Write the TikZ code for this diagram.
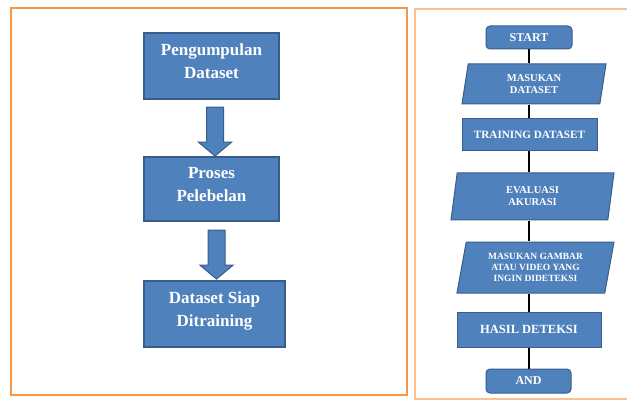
\documentclass[tikz,border=0pt]{standalone}
\usepackage{fontspec}
\setmainfont{Liberation Serif}
\usetikzlibrary{shapes.geometric,shapes.arrows,calc}

\definecolor{boxblue}{HTML}{4F81BD}
\definecolor{boxedge}{HTML}{385D8A}
\definecolor{frameorange}{HTML}{F79646}
\definecolor{framelight}{HTML}{FAC090}

\tikzset{   bigbox/.style={draw=boxedge,fill=boxblue,line width=1.5pt,text=white,align=center,inner sep=0pt,
                font=\fontsize{17}{23}\selectfont\bfseries,minimum width=135pt,minimum height=66pt},
            downarrow/.style={single arrow,draw=boxedge,fill=boxblue,line width=1pt,inner sep=8pt,
                single arrow head extend=8pt,single arrow tip angle=100,shape border rotate=270},
            flowbox/.style={draw=boxedge,fill=boxblue,line width=1pt,text=white,align=center,inner sep=0pt},
            flowterm/.style={flowbox,rounded corners=4pt},
            flowio/.style={flowbox,trapezium,trapezium left angle=72,trapezium right angle=108,trapezium stretches body},
            flowline/.style={draw=black,line width=2pt},
}

\begin{document}
\begin{tikzpicture}[x=1pt,y=-1pt]
    \useasboundingbox (0,0) rectangle (627,401);

    \draw[frameorange,line width=1.8pt] (11,8) rectangle (407,395); % left frame
    \draw[framelight,line width=1.8pt] (627,9) -- (415,9) -- (415,399) -- (627,399); % right frame

    \node[bigbox] (kumpul) at (211.5,66) {Pengumpulan\\Dataset\\[-14pt]\mbox{}}; % left steps
    \node[bigbox,minimum height=64pt] (label) at (211.5,189) {Proses\\Pelebelan\\[-14pt]\mbox{}};
    \node[bigbox,minimum width=141pt] (siap) at (214.5,314) {Dataset Siap\\Ditraining\\[-14pt]\mbox{}};

    \node[downarrow,minimum height=49pt] (panah1) at ($(kumpul.south)!.5!(label.north)+(3.5,0)$) {}; % block arrows
    \node[downarrow,minimum height=49pt] (panah2) at ($(label.south)!.5!(siap.north)+(3.5,0)$) {};

    \node[flowterm,minimum width=86pt,minimum height=23pt,font=\fontsize{12}{13}\selectfont\bfseries] (start) at (529,37.5) {START}; % flowchart
    \node[flowio,minimum width=144pt,minimum height=40pt,font=\fontsize{10.5}{12}\selectfont\bfseries] (input) at (534,84) {MASUKAN\\DATASET};
    \node[flowbox,minimum width=135pt,minimum height=32pt,font=\fontsize{11.2}{12}\selectfont\bfseries] (train) at (529.5,135) {TRAINING DATASET};
    \node[flowio,minimum width=163pt,minimum height=47pt,font=\fontsize{10.5}{12}\selectfont\bfseries] (eval) at (532.5,196.5) {EVALUASI\\AKURASI};
    \node[flowio,minimum width=157pt,minimum height=51pt,font=\fontsize{9.5}{11}\selectfont\bfseries] (gambar) at (535.5,267.5) {MASUKAN GAMBAR\\ATAU VIDEO YANG\\INGIN DIDETEKSI};
    \node[flowbox,minimum width=144pt,minimum height=35pt,font=\fontsize{12.5}{14}\selectfont\bfseries] (hasil) at (529,329.5) {HASIL DETEKSI};
    \node[flowterm,minimum width=85pt,minimum height=24pt,font=\fontsize{12}{13}\selectfont\bfseries] (akhir) at (528.5,381) {AND};

    \draw[flowline] (start.south) -- (start.south |- input.north); % connectors
    \draw[flowline] (input.south -| start.south) -- (start.south |- train.north);
    \draw[flowline] (train.south -| start.south) -- (start.south |- eval.north);
    \draw[flowline] (eval.south -| start.south) -- (start.south |- gambar.north);
    \draw[flowline] (gambar.south -| start.south) -- (start.south |- hasil.north);
    \draw[flowline] (hasil.south -| start.south) -- (start.south |- akhir.north);
\end{tikzpicture}
\end{document}
